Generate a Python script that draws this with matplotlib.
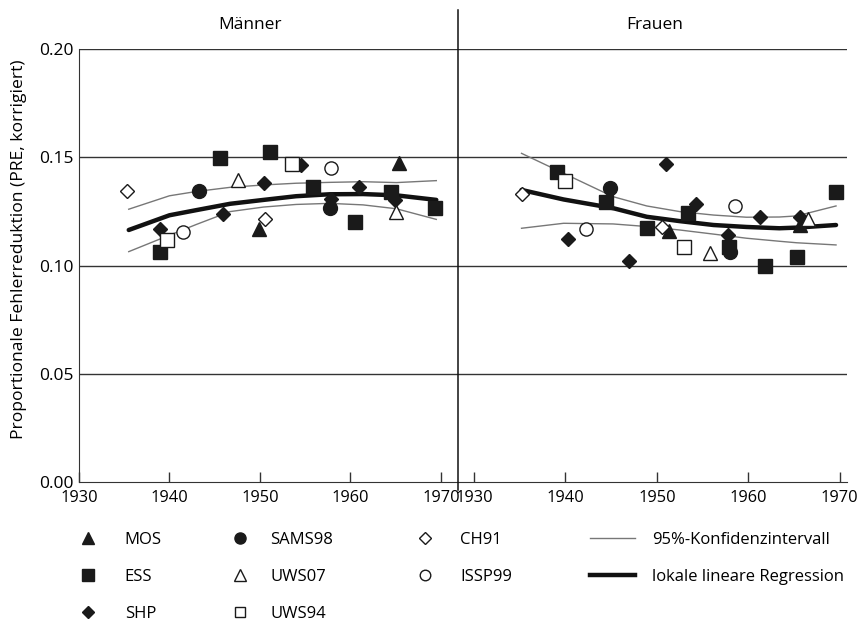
import matplotlib.pyplot as plt
from matplotlib.lines import Line2D

plt.rcParams['font.family'] = ['Open Sans', 'DejaVu Sans']

# survey data: (birth year, PRE) for men and women
surveys = ['MOS', 'ESS', 'SHP', 'SAMS98', 'UWS07', 'UWS94', 'CH91', 'ISSP99']

men_x = {
    'MOS': [1949.9, 1965.4],
    'ESS': [1939.0, 1945.6, 1951.1, 1955.9, 1960.5, 1964.5, 1969.4],
    'SHP': [1939.0, 1945.9, 1950.4, 1954.5, 1957.9, 1961.0, 1964.9],
    'SAMS98': [1943.3, 1957.7],
    'UWS07': [1947.6, 1965.0],
    'UWS94': [1939.7, 1953.5],
    'CH91': [1935.3, 1950.6],
    'ISSP99': [1941.5, 1957.9],
}
men_y = {
    'MOS': [0.117, 0.1475],
    'ESS': [0.1064, 0.1495, 0.1523, 0.1364, 0.1202, 0.1338, 0.1264],
    'SHP': [0.1167, 0.124, 0.138, 0.1464, 0.1307, 0.1364, 0.1302],
    'SAMS98': [0.1345, 0.1264],
    'UWS07': [0.1395, 0.1249],
    'UWS94': [0.112, 0.1469],
    'CH91': [0.1345, 0.1215],
    'ISSP99': [0.1153, 0.1449],
}
women_x = {
    'MOS': [1951.3, 1965.7],
    'ESS': [1939.1, 1944.4, 1948.9, 1953.4, 1957.9, 1961.8, 1965.3, 1969.6],
    'SHP': [1940.3, 1946.9, 1950.95, 1954.3, 1957.8, 1961.3, 1965.7],
    'SAMS98': [1944.9, 1958.0],
    'UWS07': [1955.8, 1966.5],
    'UWS94': [1939.9, 1953.0],
    'CH91': [1935.2, 1950.6],
    'ISSP99': [1942.2, 1958.5],
}
women_y = {
    'MOS': [0.1161, 0.1187],
    'ESS': [0.1433, 0.1295, 0.1172, 0.1244, 0.1085, 0.0998, 0.1041, 0.1338],
    'SHP': [0.1121, 0.1021, 0.1469, 0.1284, 0.1141, 0.1226, 0.1223],
    'SAMS98': [0.1359, 0.1062],
    'UWS07': [0.1056, 0.1213],
    'UWS94': [0.139, 0.1084],
    'CH91': [0.1329, 0.1177],
    'ISSP99': [0.1167, 0.1275],
}

# regression and 95% CI lines
men_fit_x = [1935.5, 1940.0, 1943.0, 1946.7, 1950.4, 1954.0, 1957.7, 1961.4, 1965.1, 1969.5]
men_fit = [0.1164, 0.1232, 0.1256, 0.1285, 0.1303, 0.1320, 0.1329, 0.1330, 0.1324, 0.1303]
men_hi = [0.1260, 0.1322, 0.1342, 0.1361, 0.1372, 0.1380, 0.1384, 0.1387, 0.1383, 0.1392]
men_lo = [0.1064, 0.1140, 0.1190, 0.1249, 0.1270, 0.1282, 0.1287, 0.1280, 0.1262, 0.1213]

women_fit_x = [1935.2, 1939.8, 1945.2, 1948.9, 1952.5, 1956.2, 1959.8, 1963.4, 1965.3, 1969.6]
women_fit = [0.1349, 0.1305, 0.1265, 0.1225, 0.1205, 0.1187, 0.1178, 0.1172, 0.1175, 0.1187]
women_hi = [0.1518, 0.1426, 0.1318, 0.1275, 0.1249, 0.1233, 0.1223, 0.1224, 0.1229, 0.1275]
women_lo = [0.1172, 0.1195, 0.1192, 0.1180, 0.1164, 0.1145, 0.1126, 0.1112, 0.1105, 0.1095]

styles = {
    'MOS': dict(marker='^', mfc='#1a1a1a', ms=10),
    'ESS': dict(marker='s', mfc='#1a1a1a', ms=10),
    'SHP': dict(marker='D', mfc='#1a1a1a', ms=7.5),
    'SAMS98': dict(marker='o', mfc='#1a1a1a', ms=10),
    'UWS07': dict(marker='^', mfc='white', ms=10),
    'UWS94': dict(marker='s', mfc='white', ms=9.5),
    'CH91': dict(marker='D', mfc='white', ms=7.5),
    'ISSP99': dict(marker='o', mfc='white', ms=9.5),
}

fig = plt.figure(figsize=(8.6, 6.36), dpi=100)
ax1 = fig.add_axes([79/860, 1-482/636, (458-79)/860, (482-49)/636])
ax2 = fig.add_axes([458/860, 1-482/636, (847-458)/860, (482-49)/636])

panels = [(ax1, men_x, men_y, men_fit_x, men_fit, men_hi, men_lo, (1930, 1971.9)),
          (ax2, women_x, women_y, women_fit_x, women_fit, women_hi, women_lo, (1928.25, 1970.8))]

for ax, dx, dy, fx, fit, hi, lo, xl in panels:
    for yv in [0.05, 0.10, 0.15, 0.20]:
        ax.axhline(yv, color='#333333', lw=1.0, zorder=1)
    ax.plot(fx, hi, color='#777777', lw=1.0, zorder=2)
    ax.plot(fx, lo, color='#777777', lw=1.0, zorder=2)
    ax.plot(fx, fit, color='#111111', lw=3.2, zorder=3, solid_capstyle='round')
    for s in surveys:
        st = styles[s]
        ax.plot(dx[s], dy[s], ls='none', marker=st['marker'], ms=st['ms'],
                mfc=st['mfc'], mec='#1a1a1a', mew=1.0, zorder=4)
    ax.set_xlim(*xl)
    ax.set_ylim(0, 0.20)
    ax.set_xticks([1930, 1940, 1950, 1960, 1970])
    ax.tick_params(axis='x', direction='in', length=7, width=1, labelsize=11.8, pad=6, color='#333333')
    for sp in ['top', 'right']:
        ax.spines[sp].set_visible(False)
    ax.spines['bottom'].set_color('#333333')
    ax.patch.set_visible(False)

ax1.spines['left'].set_color('#333333')
ax1.set_yticks([0.0, 0.05, 0.10, 0.15, 0.20])
ax1.set_yticklabels(['0.00', '0.05', '0.10', '0.15', '0.20'])
ax1.tick_params(axis='y', length=0, labelsize=12.5, pad=4)
ax1.set_ylabel('Proportionale Fehlerreduktion (PRE, korrigiert)', fontsize=12.6)
ax1.yaxis.set_label_coords(-52/379, 0.538)
ax2.spines['left'].set_visible(False)
ax2.set_yticks([])

# separator between panels
fig.add_artist(Line2D([458/860, 458/860], [1-10/636, 1-490/636], color='#111111', lw=1.1))

fig.text(250/860, 1-25/636, 'Männer', ha='center', va='center', fontsize=12.5)
fig.text(655/860, 1-25/636, 'Frauen', ha='center', va='center', fontsize=12.5)

handles = {}
for s in surveys:
    st = styles[s]
    handles[s] = Line2D([], [], ls='none', marker=st['marker'], ms=st['ms']*0.8,
                        mfc=st['mfc'], mec='#1a1a1a', mew=1.0)
handles['95%-Konfidenzintervall'] = Line2D([], [], color='#777777', lw=1.0)
handles['lokale lineare Regression'] = Line2D([], [], color='#111111', lw=3.2)

# legend columns: (labels, handle start x in px, text pad)
leg_cols = [
    (['MOS', 'ESS', 'SHP'], 65.5, 0.85),
    (['SAMS98', 'UWS07', 'UWS94'], 217.5, 0.45),
    (['CH91', 'ISSP99'], 402.5, 0.75),
    (['95%-Konfidenzintervall', 'lokale lineare Regression'], 590, 1.0),
]
for labs, x0, pad in leg_cols:
    fig.legend([handles[l] for l in labs], labs, loc='upper left',
               bbox_to_anchor=(x0/860, 1-532/636), frameon=False, fontsize=12,
               handlelength=2.7, handletextpad=pad, labelspacing=1.26,
               borderpad=0, borderaxespad=0)

fig.savefig('out.png', dpi=100)
